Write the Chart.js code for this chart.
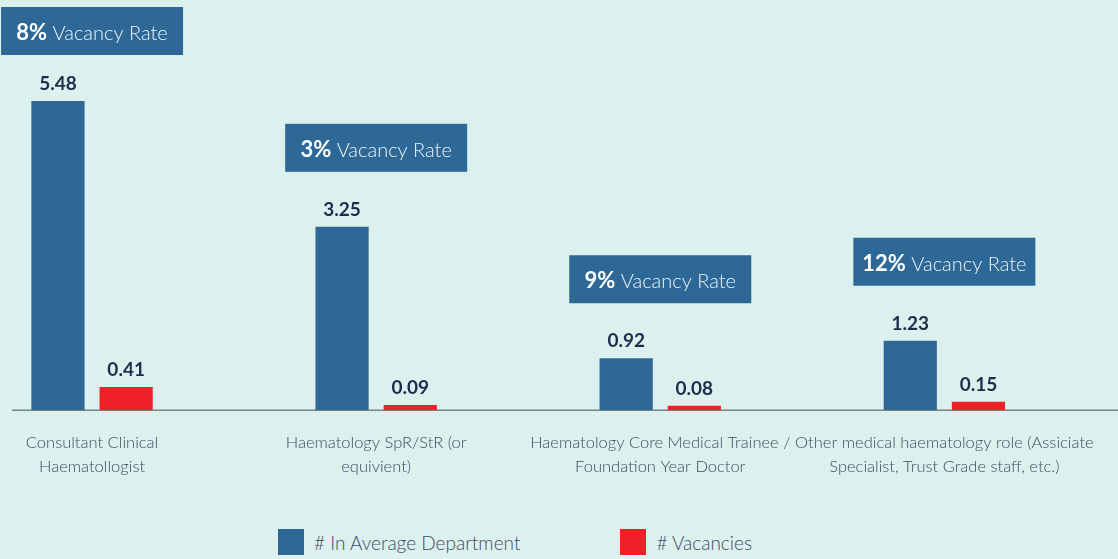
<!DOCTYPE html>
<html>
<head>
<meta charset="utf-8">
<script src="https://cdn.jsdelivr.net/npm/chart.js@4.4.0/dist/chart.umd.min.js"></script>
<style>
  html, body {
    margin: 0;
    padding: 0;
    width: 1118px;
    height: 559px;
    overflow: hidden;
    background: #dcf0ee;
    position: relative;
    font-family: Lato, "Noto Sans", sans-serif;
  }
  /* canvas is pushed a bit left so the four groups spread like the original */
  #wrap { position: absolute; left: -50px; top: 0; width: 1168px; height: 500px; }
  #legend {
    position: absolute;
    left: 278px;
    top: 529px;
    display: flex;
    gap: 100px;
    color: #3f4b66;
    font-size: 19px;
    font-weight: 300;
  }
  #legend span.item { display: flex; align-items: center; }
  #legend span.box { display: inline-block; width: 26px; height: 26px; margin-right: 10px; }
</style>
</head>
<body>
<div id="wrap"><canvas id="chart"></canvas></div>
<div id="legend"></div>
<script>
// data
const categories = [
  ["Consultant Clinical", "Haematollogist"],
  ["Haematology SpR/StR (or", "equivient)"],
  ["Haematology Core Medical Trainee /", "Foundation Year Doctor"],
  ["Other medical haematology role (Assiciate", "Specialist, Trust Grade staff, etc.)"]
];
const avgDepartment = [5.48, 3.25, 0.92, 1.23];
const vacancies = [0.41, 0.09, 0.08, 0.15];
const vacancyRates = [8, 3, 9, 12];

const BLUE = "#2d6896";
const RED = "#ee2129";
const NAVY = "#1f2c4c";

const barLabels = {
  id: "barLabels",
  beforeDatasetsDraw(chart) {
    const ctx = chart.ctx;
    const base = chart.scales.y.getPixelForValue(0);
    ctx.save();
    ctx.strokeStyle = "#7b8282";
    ctx.lineWidth = 1.5;
    ctx.beginPath();
    ctx.moveTo(62, base);
    ctx.lineTo(chart.width, base);
    ctx.stroke();
    ctx.restore();
  },
  afterDatasetsDraw(chart) {
    const ctx = chart.ctx;
    ctx.save();
    // value above each bar
    ctx.font = "bold 19px Lato";
    ctx.fillStyle = NAVY;
    ctx.textAlign = "center";
    ctx.textBaseline = "alphabetic";
    chart.data.datasets.forEach((ds, di) => {
      chart.getDatasetMeta(di).data.forEach((bar, i) => {
        ctx.fillText(ds.data[i].toFixed(2), bar.x, bar.y - 11);
      });
    });

    // vacancy rate boxes
    vacancyRates.forEach((r, i) => {
      const cx = chart.scales.x.getPixelForValue(i);
      const top = chart.getDatasetMeta(0).data[i].y;
      const by = Math.max(7, top - 55 - 48);
      ctx.fillStyle = BLUE;
      ctx.fillRect(cx - 91, by, 182, 48);

      const bold = r + "%";
      const rest = " Vacancy Rate";
      ctx.font = "bold 22px Lato";
      const w1 = ctx.measureText(bold).width;
      ctx.font = "300 20px Lato";
      const w2 = ctx.measureText(rest).width;
      const tx = cx - (w1 + w2) / 2;
      ctx.textAlign = "left";
      ctx.fillStyle = "#ffffff";
      ctx.font = "bold 22px Lato";
      ctx.fillText(bold, tx, by + 33);
      ctx.font = "300 20px Lato";
      ctx.fillStyle = "#eef4f8";
      ctx.fillText(rest, tx + w1, by + 33);
    });
    ctx.restore();
  }
};

const chart = new Chart(document.getElementById("chart"), {
  type: "bar",
  data: {
    labels: categories,
    datasets: [
      { label: "# In Average Department", data: avgDepartment, backgroundColor: BLUE },
      { label: "# Vacancies", data: vacancies, backgroundColor: RED }
    ]
  },
  options: {
    responsive: true,
    maintainAspectRatio: false,
    animation: false,
    categoryPercentage: 0.48,
    barPercentage: 0.78,
    layout: { padding: { top: 0, left: 0, right: 27, bottom: 0 } },
    plugins: {
      legend: { display: false },
      tooltip: { enabled: false }
    },
    scales: {
      x: {
        grid: { display: false, drawTicks: false },
        border: { display: false },
        ticks: {
          color: "#3f4b66",
          padding: 21,
          maxRotation: 0,
          autoSkip: false,
          font: { family: "Lato", size: 16.5, weight: 300, lineHeight: 1.45 }
        }
      },
      y: {
        display: false,
        min: 0,
        max: 7.27
      }
    }
  },
  plugins: [barLabels]
});

// legend
const legend = document.getElementById("legend");
chart.data.datasets.forEach(ds => {
  const item = document.createElement("span");
  item.className = "item";
  const box = document.createElement("span");
  box.className = "box";
  box.style.background = ds.backgroundColor;
  item.appendChild(box);
  item.appendChild(document.createTextNode(ds.label));
  legend.appendChild(item);
});
</script>
</body>
</html>
